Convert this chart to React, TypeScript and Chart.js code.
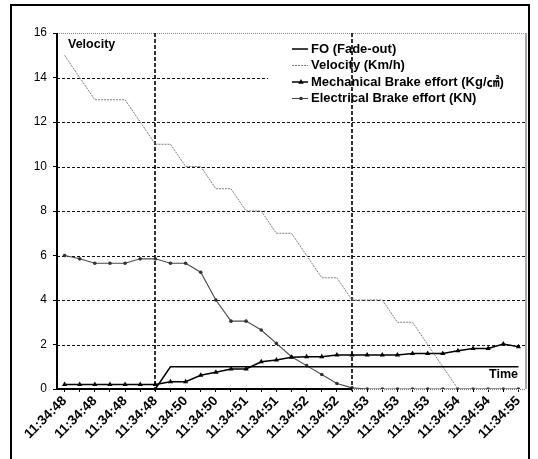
import React, { useEffect, useRef } from 'react';
import { Chart, registerables } from 'chart.js';

Chart.register(...registerables);

// Shown time labels (every second sample)
const timeLabels = [
  '11:34:48', '11:34:48', '11:34:48', '11:34:48', '11:34:50', '11:34:50',
  '11:34:51', '11:34:51', '11:34:52', '11:34:52', '11:34:53', '11:34:53',
  '11:34:53', '11:34:54', '11:34:54', '11:34:55',
];

// One category per sample; odd samples share the previous time stamp
const categories = Array.from({ length: 31 }, (_, i) => timeLabels[Math.floor(i / 2)]);

const fadeOut = [
  0, 0, 0, 0, 0, 0, 0, 1, 1, 1, 1, 1, 1, 1, 1, 1,
  1, 1, 1, 1, 1, 1, 1, 1, 1, 1, 1, 1, 1, 1, 1,
];

const velocity = [
  15, 14, 13, 13, 13, 12, 11, 11, 10, 10, 9, 9, 8, 8, 7, 7,
  6, 5, 5, 4, 4, 4, 3, 3, 2, 1, 0, 0, 0, 0, 0,
];

const mechanicalBrake = [
  0.2, 0.2, 0.2, 0.2, 0.2, 0.2, 0.2, 0.33, 0.33, 0.62, 0.75, 0.9, 0.9, 1.22, 1.3, 1.43,
  1.45, 1.45, 1.53, 1.53, 1.53, 1.53, 1.53, 1.6, 1.6, 1.6, 1.72, 1.82, 1.82, 2.02, 1.9,
];

const electricalBrake = [
  6.0, 5.85, 5.65, 5.65, 5.65, 5.85, 5.85, 5.65, 5.65, 5.25, 4.0, 3.05, 3.05, 2.65, 2.05, 1.45,
  1.05, 0.65, 0.25, 0.05, 0, 0, 0, 0, 0, 0, 0, 0, 0, 0, 0,
];

// Sample indices of the two event markers (vertical dashed lines)
const eventMarkers = [6, 19];

const yTitle = 'Velocity';
const xTitle = 'Time';

const FONT = "'Liberation Sans', Arial, 'Noto Sans CJK KR', sans-serif";

function line(ctx: CanvasRenderingContext2D, x1: number, y1: number, x2: number, y2: number) {
  ctx.beginPath();
  ctx.moveTo(x1, y1);
  ctx.lineTo(x2, y2);
  ctx.stroke();
}

function marker(ctx: CanvasRenderingContext2D, style: string, x: number, y: number, r: number, color: string) {
  ctx.save();
  ctx.setLineDash([]);
  ctx.fillStyle = color;
  ctx.beginPath();
  if (style === 'triangle') {
    ctx.moveTo(x, y - r);
    ctx.lineTo(x + r * 0.9, y + r * 0.6);
    ctx.lineTo(x - r * 0.9, y + r * 0.6);
    ctx.closePath();
  } else {
    ctx.arc(x, y, r, 0, Math.PI * 2);
  }
  ctx.fill();
  ctx.restore();
}

const framePlugin = {
  id: 'frame',
  beforeDraw(chart: any) {
    const { ctx, width, height } = chart;
    ctx.save();
    ctx.fillStyle = '#fff';
    ctx.fillRect(0, 0, width, height);
    ctx.restore();
  },
  beforeDatasetsDraw(chart: any) {
    const { ctx, chartArea: a, scales } = chart;
    const x = scales.x;
    const y = scales.y;
    ctx.save();
    // horizontal grid
    ctx.strokeStyle = '#111';
    ctx.lineWidth = 1;
    ctx.setLineDash([3, 2]);
    y.ticks.forEach((t: any) => {
      if (t.value > y.min && t.value < y.max) {
        const py = Math.round(y.getPixelForValue(t.value)) + 0.5;
        line(ctx, a.left, py, a.right, py);
      }
    });
    // legend box background hides the grid behind it
    ctx.fillStyle = '#fff';
    ctx.fillRect(a.left + 211, a.top + 1, a.right - a.left - 212, 78);
    // top border
    ctx.strokeStyle = '#8a8a8a';
    ctx.setLineDash([1, 1]);
    line(ctx, a.left, Math.round(a.top) + 0.5, a.right, Math.round(a.top) + 0.5);
    // right border
    ctx.setLineDash([]);
    ctx.lineWidth = 1.5;
    line(ctx, a.right, a.top, a.right, a.bottom);
    // event markers
    ctx.strokeStyle = '#000';
    ctx.lineWidth = 1.6;
    ctx.setLineDash([4, 2]);
    eventMarkers.forEach((i) => {
      const px = Math.round(x.getPixelForValue(i));
      line(ctx, px, a.top, px, a.bottom + 4);
    });
    ctx.restore();
  },
  afterDatasetsDraw(chart: any) {
    const { ctx, chartArea: a, scales } = chart;
    const x = scales.x;
    ctx.save();
    // axes
    ctx.setLineDash([]);
    ctx.strokeStyle = '#000';
    ctx.lineWidth = 2;
    line(ctx, a.left, a.top, a.left, a.bottom + 1);
    const cut = x.getPixelForValue(eventMarkers[eventMarkers.length - 1]);
    line(ctx, a.left - 1, a.bottom, cut, a.bottom);
    ctx.lineWidth = 1;
    ctx.strokeStyle = '#777';
    ctx.setLineDash([1, 1]);
    line(ctx, cut, Math.round(a.bottom) + 0.5, a.right, Math.round(a.bottom) + 0.5);

    // axis titles inside the plot
    ctx.setLineDash([]);
    ctx.fillStyle = '#000';
    ctx.font = `bold 12.5px ${FONT}`;
    ctx.textBaseline = 'middle';
    ctx.textAlign = 'left';
    ctx.fillText(yTitle, a.left + 11, a.top + 12);
    ctx.textAlign = 'right';
    ctx.fillText(xTitle, a.right - 8, a.bottom - 14);

    // legend
    ctx.font = `bold 13px ${FONT}`;
    ctx.textAlign = 'left';
    chart.data.datasets.forEach((ds: any, i: number) => {
      const ly = a.top + 16 + i * 16.5;
      const lx = a.right - 234;
      ctx.save();
      ctx.strokeStyle = ds.borderColor;
      ctx.lineWidth = ds.borderWidth;
      ctx.setLineDash(ds.borderDash || []);
      line(ctx, lx, ly, lx + 16, ly);
      ctx.restore();
      if (ds.pointRadius > 0) {
        marker(ctx, ds.pointStyle, lx + 9, ly, ds.pointRadius, ds.pointBackgroundColor);
      }
      ctx.fillStyle = '#000';
      ctx.fillText(ds.label, lx + 19, ly);
    });

    // outer frame
    ctx.strokeStyle = '#000';
    ctx.lineWidth = 2;
    ctx.strokeRect(11, 5, 518, 470);
    ctx.restore();
  },
};

export default function App() {
  const ref = useRef<HTMLCanvasElement | null>(null);

  useEffect(() => {
    const canvas = ref.current;
    if (!canvas) return;
    const chart = new Chart(canvas, {
      type: 'line',
      data: {
        labels: categories,
        datasets: [
          {
            label: 'FO (Fade-out)',
            data: fadeOut,
            borderColor: '#000',
            borderWidth: 1.5,
            pointRadius: 0,
            tension: 0,
          },
          {
            label: 'Velocity (Km/h)',
            data: velocity,
            borderColor: '#7d7d7d',
            borderWidth: 1,
            borderDash: [2, 1],
            pointRadius: 0,
            tension: 0,
          },
          {
            label: 'Mechanical Brake effort (Kg/㎠)',
            data: mechanicalBrake,
            borderColor: '#000',
            borderWidth: 1.5,
            pointStyle: 'triangle',
            pointRadius: 3,
            pointBackgroundColor: '#000',
            pointBorderColor: '#000',
            pointBorderWidth: 0,
            tension: 0,
          },
          {
            label: 'Electrical Brake effort (KN)',
            data: electricalBrake,
            borderColor: '#4a4a4a',
            borderWidth: 1.1,
            pointStyle: 'circle',
            pointRadius: 1.8,
            pointBackgroundColor: '#333',
            pointBorderColor: '#333',
            pointBorderWidth: 0,
            tension: 0,
          },
        ],
      },
      options: {
        responsive: false,
        animation: false,
        events: [],
        layout: { padding: { top: 33, right: 12, left: 0, bottom: 0 } },
        plugins: {
          legend: { display: false },
          tooltip: { enabled: false },
          title: { display: false },
        },
        scales: {
          x: {
            type: 'category',
            offset: true,
            grid: {
              display: true,
              drawOnChartArea: false,
              drawTicks: true,
              tickLength: 3,
              color: '#000',
              offset: false,
            },
            border: { display: false },
            ticks: {
              autoSkip: false,
              minRotation: 45,
              maxRotation: 45,
              padding: 1,
              color: '#000',
              font: { family: FONT, size: 13.5, weight: 'bold' },
              callback: (_v: any, i: number) => (i % 2 === 0 ? categories[i] : ''),
            },
            afterFit: (s: any) => {
              s.height = 70;
              s.paddingLeft = 0;
              s.paddingRight = 0;
            },
          },
          y: {
            min: 0,
            max: 16,
            ticks: {
              stepSize: 2,
              padding: 6,
              color: '#000',
              font: { family: FONT, size: 12 },
            },
            grid: { drawOnChartArea: false, tickLength: 4, color: '#000' },
            border: { display: false },
            afterFit: (s: any) => {
              s.width = 57;
              s.paddingTop = 0;
              s.paddingBottom = 0;
            },
          },
        },
      },
      plugins: [framePlugin],
    });
    return () => chart.destroy();
  }, []);

  return (
    <div style={{ position: 'fixed', left: 0, top: 0, width: 538, height: 459, background: '#fff' }}>
      <canvas ref={ref} width={538} height={459} style={{ display: 'block' }} />
    </div>
  );
}
